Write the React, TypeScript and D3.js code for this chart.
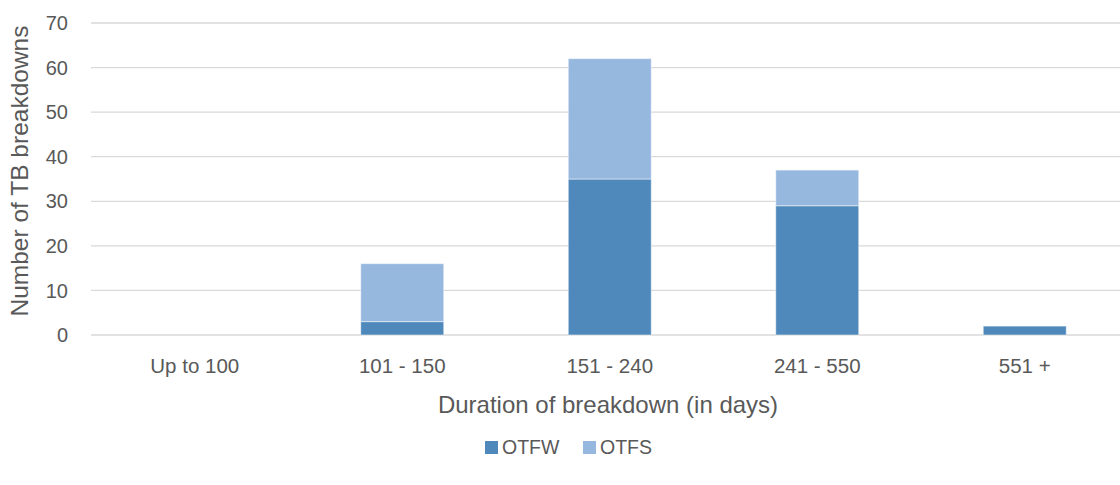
import React from 'react';
import { scaleBand, scaleLinear, stack } from 'd3';

const categories = ['Up to 100', '101 - 150', '151 - 240', '241 - 550', '551 +'];
const otfw = [0, 3, 35, 29, 2];
const otfs = [0, 13, 27, 8, 0];
const yTicks = [0, 10, 20, 30, 40, 50, 60, 70];
const seriesNames = ['OTFW', 'OTFS'];
const colors = ['#4F88BB', '#96B7DE'];

const W = 1120;
const H = 485;
const left = 91;
const top = 23;
const bottom = 335;
const font = '"Liberation Sans", Arial, sans-serif';
const textColor = '#595959';

export default function App() {
  const x = scaleBand<string>().domain(categories).range([left, left + 1037.5]).padding(0);
  const y = scaleLinear().domain([0, 70]).range([bottom, top]);
  const rows = categories.map((c, i) => ({ cat: c, OTFW: otfw[i], OTFS: otfs[i] }));
  const layers = stack<any>().keys(seriesNames)(rows);
  const barW = x.bandwidth() * 0.4;

  return (
    <svg width={W} height={H} style={{ position: 'absolute', left: 0, top: 0, background: '#fff' }}>
      {yTicks.map(t => (
        <g key={t}>
          <line x1={left} x2={W} y1={y(t)} y2={y(t)} stroke='#D9D9D9' strokeWidth={1.3} />
          <text x={68} y={y(t)} dy='0.36em' textAnchor='end' fontFamily={font} fontSize={20} fill={textColor}>
            {t}
          </text>
        </g>
      ))}
      {layers.map((layer, li) => (
        <g key={li} fill={colors[li]}>
          {layer.map((d, i) =>
            d[1] - d[0] > 0 ? (
              <rect
                key={i}
                x={(x(categories[i]) as number) + x.bandwidth() / 2 - barW / 2}
                y={y(d[1])}
                width={barW}
                height={y(d[0]) - y(d[1])}
                stroke='#fff'
                strokeOpacity={0.5}
                strokeWidth={1}
              />
            ) : null
          )}
        </g>
      ))}
      {categories.map(c => (
        <text
          key={c}
          x={(x(c) as number) + x.bandwidth() / 2}
          y={373}
          textAnchor='middle'
          fontFamily={font}
          fontSize={20.5}
          fill={textColor}
        >
          {c}
        </text>
      ))}
      <text x={608} y={413} textAnchor='middle' fontFamily={font} fontSize={24} fill={textColor}>
        Duration of breakdown (in days)
      </text>
      <text
        transform='translate(28,171) rotate(-90)'
        textAnchor='middle'
        fontFamily={font}
        fontSize={24.5}
        fill={textColor}
      >
        Number of TB breakdowns
      </text>
      {seriesNames.map((s, i) => (
        <g key={s} transform={`translate(${485 + i * 98},441)`}>
          <rect width={13} height={13} fill={colors[i]} />
          <text x={17} y={13} fontFamily={font} fontSize={19.5} fill={textColor}>
            {s}
          </text>
        </g>
      ))}
    </svg>
  );
}
